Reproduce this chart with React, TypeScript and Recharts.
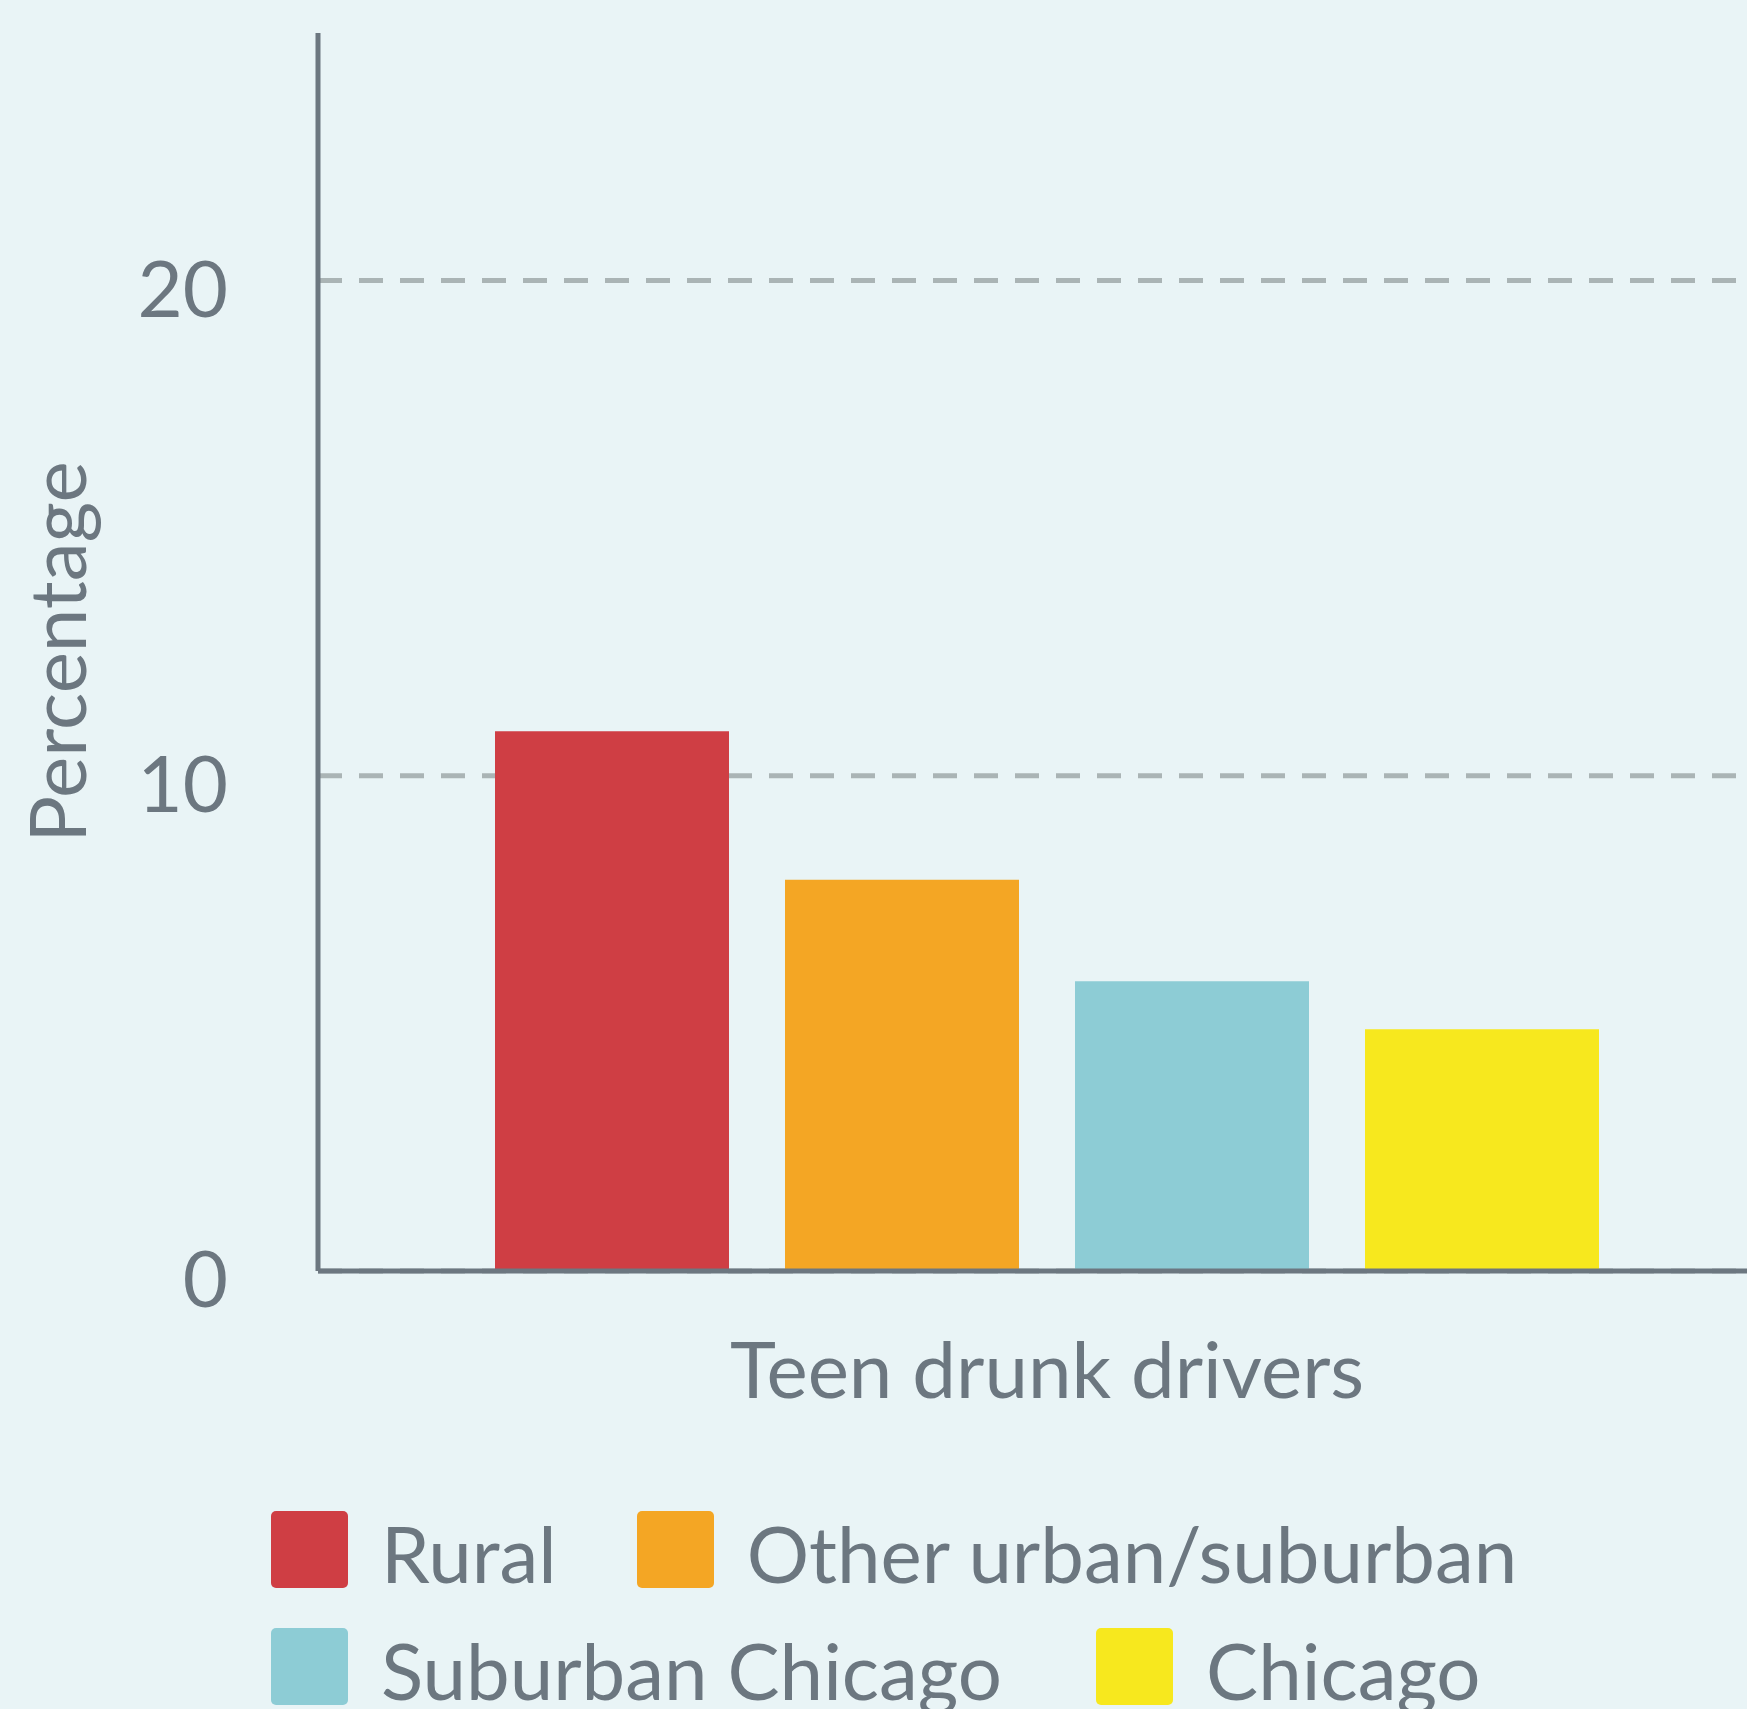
import { BarChart, Bar, XAxis, YAxis, CartesianGrid, Legend } from "recharts";

const categories = ["Teen drunk drivers"];
const rural = [10.9];
const otherUrban = [7.9];
const suburbanChicago = [5.85];
const chicago = [4.88];
const yTicks = [0, 10, 20];

const series = [
  { key: "rural", name: "Rural", color: "#cf3e44", values: rural },
  { key: "otherUrban", name: "Other urban/suburban", color: "#f4a624", values: otherUrban },
  { key: "suburbanChicago", name: "Suburban Chicago", color: "#8dccd5", values: suburbanChicago },
  { key: "chicago", name: "Chicago", color: "#f7e81e", values: chicago },
];

const data = categories.map((name, i) => {
  const row: Record<string, string | number> = { name };
  series.forEach((s) => {
    row[s.key] = s.values[i];
  });
  return row;
});

const BG = "#e9f4f6";
const INK = "#6c7780";
const FONT = "Lato, 'Open Sans', sans-serif";
const FS = 78;

const legendRows = [
  { items: [series[0], series[1]], gap: 80 },
  { items: [series[2], series[3]], gap: 94 },
];

function YTick(props: any) {
  const { x, y, payload } = props;
  return (
    <text x={x} y={y + 36} textAnchor="end" fill={INK} fontSize={FS} fontFamily={FONT}>
      {payload.value}
    </text>
  );
}

function renderLegend() {
  return (
    <div style={{ fontFamily: FONT, fontSize: FS, color: INK }}>
      {legendRows.map((row, r) => (
        <div key={r} style={{ display: "flex", alignItems: "flex-start", marginBottom: 36, gap: row.gap }}>
          {row.items.map((s) => (
            <div key={s.key} style={{ display: "flex", alignItems: "flex-start" }}>
              <span style={{ width: 77, height: 77, borderRadius: 5, background: s.color, display: "inline-block" }} />
              <span style={{ marginLeft: 33, lineHeight: "77px", paddingTop: 4, whiteSpace: "nowrap" }}>{s.name}</span>
            </div>
          ))}
        </div>
      ))}
    </div>
  );
}

export default function App() {
  return (
    <div style={{ position: "absolute", left: 0, top: 0, width: 1747, height: 1709, background: BG, overflow: "hidden" }}>
      <BarChart
        width={1747}
        height={1709}
        data={data}
        margin={{ top: 33, right: 0, left: 0, bottom: 0 }}
        barGap={56}
        barSize={234}
      >
        <CartesianGrid
          horizontal
          vertical={false}
          horizontalValues={yTicks}
          stroke="#aab4b5"
          strokeWidth={5}
          strokeDasharray="24 17"
        />
        <XAxis
          dataKey="name"
          height={438}
          padding={{ left: 29, right: 0 }}
          tick={false}
          tickLine={false}
          axisLine={{ stroke: INK, strokeWidth: 5 }}
          label={(p: any) => {
            const vb = p.viewBox || {};
            const cx = vb.x + 29 + (vb.width - 29) / 2;
            return (
              <text x={cx} y={1398} textAnchor="middle" fill={INK} fontSize={FS} fontFamily={FONT}>
                Teen drunk drivers
              </text>
            );
          }}
        />
        <YAxis
          width={318}
          domain={[0, 25]}
          ticks={yTicks}
          tickLine={false}
          tickSize={0}
          tickMargin={90}
          tick={<YTick />}
          axisLine={{ stroke: INK, strokeWidth: 5 }}
          label={(p: any) => {
            const vb = p.viewBox || {};
            const cy = vb.y + vb.height / 2;
            return (
              <text
                x={86}
                y={cy}
                textAnchor="middle"
                transform={`rotate(-90, 86, ${cy})`}
                fill={INK}
                fontSize={FS}
                fontFamily={FONT}
              >
                Percentage
              </text>
            );
          }}
        />
        <Legend
          content={renderLegend}
          wrapperStyle={{ position: "absolute", left: 271, top: 1511, width: 1450, height: 0, overflow: "visible" }}
        />
        {series.map((s) => (
          <Bar key={s.key} dataKey={s.key} name={s.name} fill={s.color} isAnimationActive={false} />
        ))}
      </BarChart>
    </div>
  );
}
